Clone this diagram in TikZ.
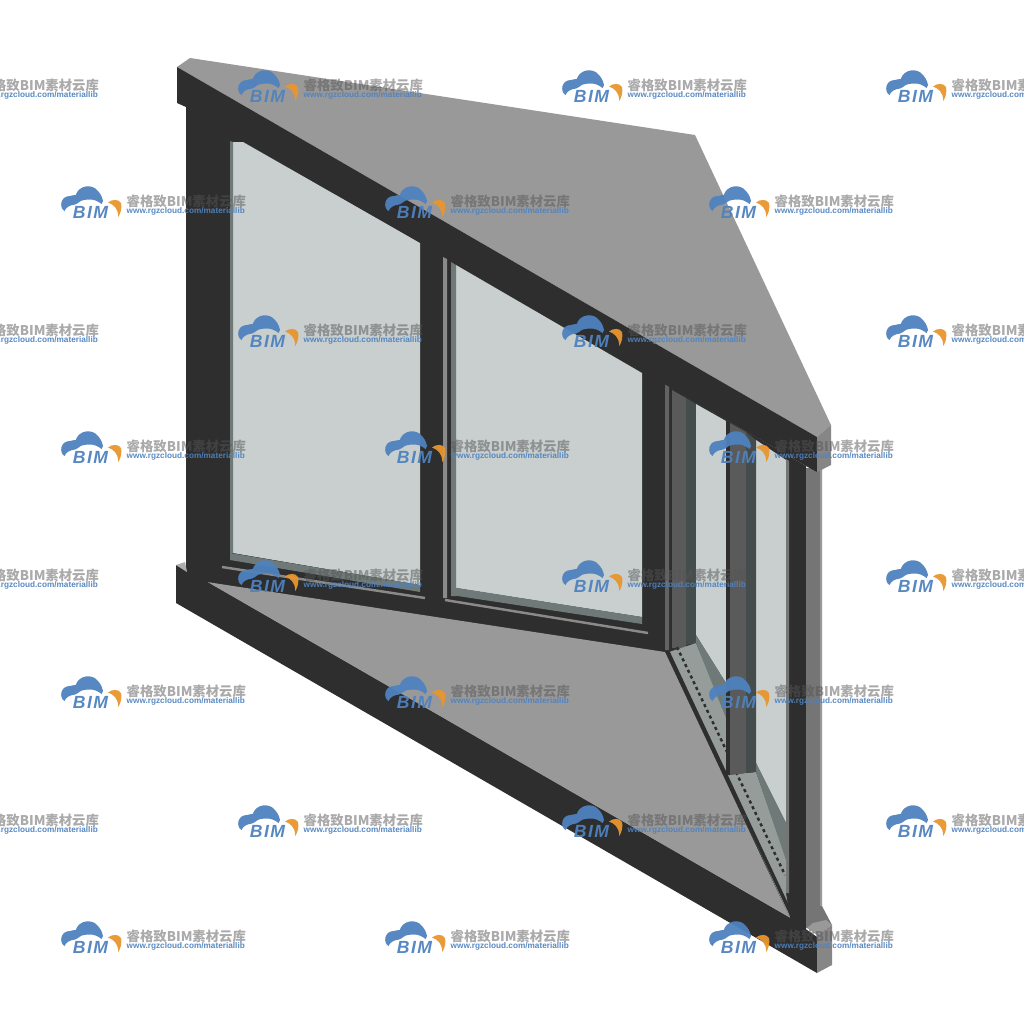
\documentclass[tikz,border=0pt]{standalone}
\usepackage{fontspec}
\newfontfamily\cjkfont{Noto Sans CJK SC}
\newfontfamily\wmfont{Liberation Sans}
\newfontfamily\bimfont[LetterSpace=8]{Liberation Sans}
\definecolor{framedark}{HTML}{2E2E2E}
\definecolor{slabtop}{HTML}{999999}
\definecolor{slabside}{HTML}{868686}
\definecolor{postgray}{HTML}{757575}
\definecolor{glasspane}{HTML}{C8CFCE}
\definecolor{sillband}{HTML}{6F7A78}
\definecolor{stripgray}{HTML}{8A8A8A}
\definecolor{ledgegray}{HTML}{969C9A}
\definecolor{bladegray}{HTML}{5A5A5A}
\definecolor{bladeshade}{HTML}{454D4C}
\definecolor{cloudblue}{HTML}{4F82BE}
\definecolor{arcorange}{HTML}{E8962E}
\definecolor{brandgray}{HTML}{555555}

\begin{document}
\begin{tikzpicture}[x=0.01cm, y=-0.01cm,
    glass/.style={fill=glasspane},
    strip/.style={draw=stripgray, line width=0.7pt},
    dots/.style={draw=framedark, line width=0.7pt, dash pattern=on 0.9pt off 0.9pt},
    brandtext/.style={anchor=base west, inner sep=0pt, text=brandgray, text opacity=0.5,
      font=\cjkfont\bfseries\fontsize{3.8pt}{4pt}\selectfont},
    urltext/.style={anchor=base west, inner sep=0pt, text=cloudblue, text opacity=0.95,
      font=\wmfont\bfseries\fontsize{2.34pt}{3pt}\selectfont},
    bimtext/.style={anchor=base, inner sep=0pt, text=cloudblue, text opacity=0.95,
      font=\bimfont\bfseries\itshape\fontsize{5pt}{5pt}\selectfont}]
  \useasboundingbox (0,0) rectangle (1024,1024);
  \clip (0,0) rectangle (1024,1024);

  % key points of the frame
  \coordinate (topL) at (177,67);
  \coordinate (topR) at (817,437);
  \coordinate (floorL) at (207,582);
  \coordinate (floorM) at (665,652);
  \coordinate (floorR) at (790,918);

  % dark frame behind everything
  \fill[framedark] (186,105) -- (806,466) -- (806,930) -- (186,600) -- cycle;

  % front panes
  \fill[glass] (233,142) -- (243,142) -- (420,243) -- (420,585) -- (233,553) -- cycle;
  \fill[glass] (456,265) -- (642,373) -- (642,617) -- (456,588) -- cycle;
  \fill[sillband] (230,141) -- (233,142) -- (233,553) -- (230,553) -- cycle;
  \fill[sillband] (451,262) -- (456,265) -- (456,596) -- (451,596) -- cycle;
  \fill[stripgray] (443,257) -- (447,259) -- (447,598) -- (443,598) -- cycle;

  % sill bands under the panes
  \fill[sillband] (230,553) -- (420,585) -- (420,592) -- (230,560) -- cycle;
  \fill[sillband] (451,587) -- (642,617) -- (642,624) -- (451,595) -- cycle;
  \draw[strip] (222,567) -- (425,598);
  \draw[strip] (445,600) -- (648,633);

  % side of the bay, gray strips first
  \fill[postgray!85!black] (665,383) -- (669,386) -- (669,650) -- (665,650) -- cycle;
  \fill[bladegray] (672,390) -- (686,398) -- (686,648) -- (672,648) -- cycle;
  \fill[bladeshade] (686,398) -- (696,404) -- (696,643) -- (686,645) -- cycle;
  \fill[glass] (696,404) -- (726,421) -- (726,683) -- (696,635) -- cycle;
  \fill[glass] (756,440) -- (786,460) -- (786,823) -- (756,763) -- cycle;
  \fill[postgray] (786,459) -- (789,461) -- (789,893) -- (786,893) -- cycle;

  % ledge along the slanted bottom of the bay
  \fill[ledgegray] (669,652) -- (696,643) -- (726,715) -- (726,775) -- (756,772)
    -- (786,858) -- (786,893) -- (790,918) -- cycle;
  \fill[sillband] (696,635) -- (726,683) -- (726,718) -- (696,643) -- cycle;
  \fill[sillband] (756,763) -- (786,823) -- (786,860) -- (756,772) -- cycle;
  \draw[dots] (677,647) -- (727,752);
  \draw[dots] (736,772) -- (785,875);

  % middle blade of the bay
  \fill[framedark] (726,421) -- (730,423) -- (730,775) -- (726,775) -- cycle;
  \fill[bladegray] (730,423) -- (746,432) -- (746,773) -- (730,775) -- cycle;
  \fill[bladeshade] (746,432) -- (756,440) -- (756,772) -- (746,773) -- cycle;

  % floor and dark line along its edge
  \draw[framedark, line width=1pt] (668,652) -- (793,918);
  \fill[slabtop] (floorL) -- (floorM) -- (floorR) -- cycle;

  % lower slab: front, side and top of its end
  \fill[framedark] (176,565) -- (floorL) -- (floorR) -- (817,937) -- (817,973) -- (176,603) -- cycle;
  \fill[slabtop!80!white] (176,565) -- (185,562) -- (187,572) -- cycle;
  \fill[postgray] (806,468) -- (822,468) -- (822,906) -- (832,925) -- (806,928) -- cycle;
  \fill[slabtop] (820,468) -- (822,468) -- (822,906) -- (820,906) -- cycle;
  \fill[slabtop] (807,928) -- (813,923) -- (826,920) -- (832,925) -- (817,935) -- cycle;
  \fill[slabside] (817,935) -- (832,925) -- (832,965) -- (817,973) -- cycle;

  % upper slab
  \fill[slabtop] (topL) -- (190,58) -- (695,135) -- (831,425) -- (topR) -- cycle;
  \fill[framedark] (topL) -- (topR) -- (817,472) -- (806,466) -- (186,107) -- (177,103) -- cycle;
  \fill[slabside] (topR) -- (831,425) -- (831,465) -- (817,472) -- cycle;

  % watermark, logo with its two lines of text
  \foreach \wmx/\wmy [count=\k] in {
      -86/88, 238/88, 562/88, 886/88,
      61/204, 385/204, 709/204,
      -86/333, 238/333, 562/333, 886/333,
      61/449, 385/449, 709/449,
      -86/578, 238/578, 562/578, 886/578,
      61/694, 385/694, 709/694,
      -86/823, 238/823, 562/823, 886/823,
      61/939, 385/939, 709/939} {
    \begin{scope}[shift={(\wmx,\wmy)}]
      \fill[cloudblue, opacity=0.95] (3.5,7) .. controls (-2,4) and (-1,-8) .. (9,-8)
        .. controls (11,-8.5) and (13,-9) .. (14.7,-9)
        .. controls (18,-19) and (31,-20) .. (36,-14)
        .. controls (39,-11) and (41,-8) .. (42,-3) -- (40.5,0)
        .. controls (37,-3) and (33,-4.5) .. (29,-4.5)
        .. controls (25,-4.5) and (21,-4) .. (19,-2.5)
        .. controls (17,-1) and (16,0) .. (14,0.5)
        .. controls (11,1) and (9,1.5) .. (7.5,2.5)
        .. controls (5.5,3.5) and (4.5,5) .. (3.5,7) -- cycle;
      \fill[arcorange, opacity=0.95] (47,-1.5) .. controls (51,-5) and (58,-5) .. (60,-1)
        .. controls (61,3) and (60,9) .. (57.3,13)
        .. controls (57,8) and (56,5) .. (54,3)
        .. controls (52,1) and (50,-0.5) .. (47,-1.5) -- cycle;
      \node[bimtext] (bim\k) at (29.5,14) {BIM};
      \node[brandtext] (brand\k) at (65,2.5) {睿格致BIM素材云库};
      \node[urltext] (url\k) at (65,9.5) {www.rgzcloud.com/materiallib};
    \end{scope}
  }
\end{tikzpicture}
\end{document}
